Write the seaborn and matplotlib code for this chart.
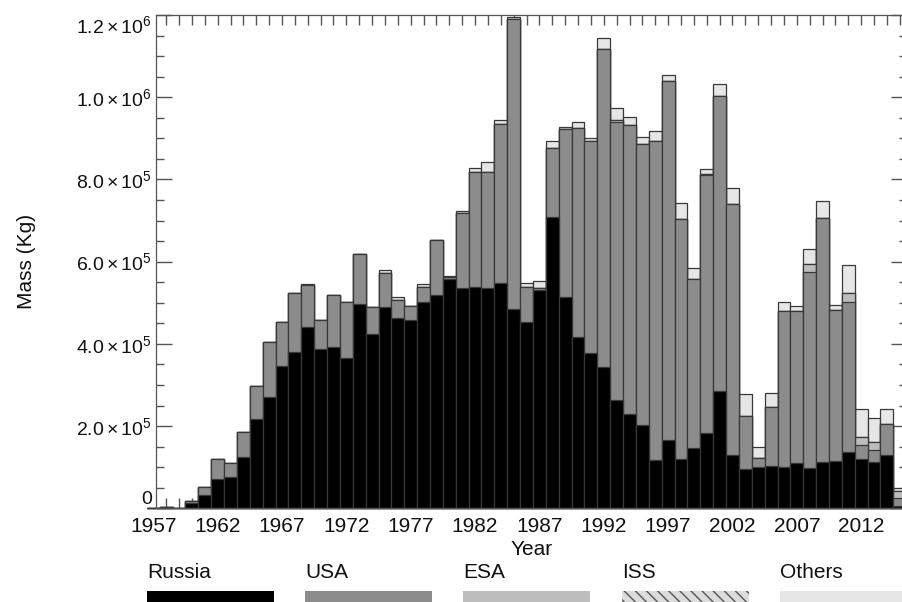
import matplotlib
matplotlib.use("Agg")
import matplotlib.pyplot as plt
from matplotlib.patches import Rectangle
from matplotlib.ticker import FixedLocator, MultipleLocator
import pandas as pd
import seaborn as sns

# ---------------------------------------------------------------- data (kg)
years = list(range(1957, 2016))

russia = [1500, 3500, 500, 14000, 32000, 71000, 75000, 124000, 217000, 271000,
          347000, 381000, 442000, 387000, 392000, 365000, 498000, 424000, 489000, 464000,
          457000, 502000, 519000, 558000, 536000, 538000, 536000, 547000, 484000, 454000,
          532000, 709000, 515000, 416000, 377000, 343000, 264000, 230000, 202000, 117000,
          165000, 119000, 146000, 184000, 286000, 130000, 95000, 100000, 104000, 100000,
          110000, 97000, 113000, 116000, 138000, 119000, 113000, 129000, 6000]

usa = [0, 500, 300, 4000, 19000, 50000, 36000, 62000, 81000, 133000,
       105000, 142000, 102000, 71000, 126000, 137000, 120000, 65000, 83000, 43000,
       34000, 36000, 134000, 5000, 182000, 281000, 282000, 388000, 707000, 84000,
       4000, 168000, 408000, 509000, 517000, 775000, 676000, 703000, 683000, 777000,
       875000, 585000, 412000, 626000, 716000, 611000, 130000, 22000, 142000, 381000,
       369000, 478000, 594000, 367000, 365000, 35000, 29000, 77000, 18000]

esa = [0, 0, 0, 0, 0, 0, 0, 0, 0, 0,
       0, 0, 0, 0, 0, 0, 0, 0, 0, 0,
       0, 0, 0, 0, 0, 0, 0, 0, 0, 0,
       0, 0, 0, 0, 0, 0, 5000, 0, 0, 0,
       0, 0, 0, 3000, 0, 0, 0, 0, 0, 0,
       0, 20000, 0, 0, 21000, 19000, 19000, 0, 18000]

iss = [0, 0, 0, 0, 0, 0, 0, 0, 0, 0,
       0, 0, 0, 0, 0, 0, 0, 0, 0, 0,
       0, 0, 0, 0, 0, 0, 0, 0, 0, 0,
       0, 0, 0, 0, 0, 0, 0, 0, 0, 0,
       0, 0, 0, 0, 0, 0, 0, 0, 0, 0,
       0, 0, 0, 0, 0, 0, 0, 0, 0]

others = [0, 0, 0, 0, 0, 0, 0, 0, 0, 0,
          0, 0, 2000, 0, 2000, 0, 0, 0, 8000, 6000,
          1000, 8000, 0, 3000, 5000, 8000, 25000, 9000, 5000, 11000,
          17000, 16000, 5000, 15000, 7000, 26000, 28000, 19000, 18000, 25000,
          13000, 39000, 26000, 12000, 29000, 37000, 53000, 27000, 35000, 21000,
          14000, 36000, 40000, 12000, 67000, 69000, 58000, 35000, 7000]

series_names = ["Russia", "USA", "ESA", "ISS", "Others"]
ytick_values = [0, 2e5, 4e5, 6e5, 8e5, 1.0e6, 1.2e6]
ytick_labels = ["0", r"$2.0\times10^{5}$", r"$4.0\times10^{5}$", r"$6.0\times10^{5}$",
                r"$8.0\times10^{5}$", r"$1.0\times10^{6}$", r"$1.2\times10^{6}$"]
xtick_years = [1957, 1962, 1967, 1972, 1977, 1982, 1987, 1992, 1997, 2002, 2007, 2012]

# ---------------------------------------------------------------- styling
sns.set_theme(style="white")
plt.rcParams["font.family"] = ["Liberation Sans", "DejaVu Sans"]
plt.rcParams["mathtext.fontset"] = "custom"
plt.rcParams["mathtext.rm"] = "Liberation Sans"
plt.rcParams["mathtext.it"] = "Liberation Sans:italic"
plt.rcParams["mathtext.bf"] = "Liberation Sans:bold"
plt.rcParams["hatch.linewidth"] = 1.0

colors = {"Russia": "#000000", "USA": "#8c8c8c", "ESA": "#bdbdbd",
          "ISS": "#dcdcdc", "Others": "#e6e6e6"}
hatches = {"ISS": "\\\\\\"}
EDGE = "#383838"
SPINE = "#555555"
TEXT = "#111111"

df = pd.DataFrame({"year": years, "Russia": russia, "USA": usa,
                   "ESA": esa, "ISS": iss, "Others": others})
cum = df[series_names].cumsum(axis=1)
cum["year"] = df["year"]

W, H = 902, 602
fig = plt.figure(figsize=(W / 100, H / 100), dpi=100)
# the plotting frame runs slightly past the right edge of the canvas
ax_left, ax_right, ax_top, ax_bottom = 156, 907, 15, 508.3
ax = fig.add_axes([ax_left / W, 1 - ax_bottom / H,
                   (ax_right - ax_left) / W, (ax_bottom - ax_top) / H])

# stacked bars: draw the running totals from the top segment down
for name in reversed(series_names):
    kw = {}
    if name in hatches:
        kw["hatch"] = hatches[name]
    sns.barplot(data=cum, x="year", y=name, native_scale=True, orient="x",
                width=1.0, color=colors[name], saturation=1, errorbar=None,
                edgecolor=EDGE, linewidth=0.9, clip_on=False, ax=ax, **kw)

# ---------------------------------------------------------------- axes
ax.set_ylim(0, 1.2e6)
ax.set_xlim(1957.21, 2015.56)

ax.yaxis.set_major_locator(FixedLocator(ytick_values))
ax.set_yticklabels(ytick_labels)
ax.yaxis.set_minor_locator(MultipleLocator(5e4))
ax.xaxis.set_major_locator(FixedLocator(xtick_years))
ax.set_xticklabels([str(y) for y in xtick_years])
ax.xaxis.set_minor_locator(MultipleLocator(1))

ax.tick_params(axis="y", which="major", direction="in", length=11.5, width=1.0,
               color=SPINE, left=True, right=True, labelsize=14, pad=3, labelcolor=TEXT)
ax.tick_params(axis="y", which="minor", direction="in", length=5.8, width=1.0,
               color=SPINE, left=True, right=True)
ax.tick_params(axis="x", which="both", direction="in", length=7, width=1.0,
               color=SPINE, bottom=True, top=True)
ax.tick_params(axis="x", which="major", labelsize=15, pad=6.5, labelcolor=TEXT)

labels = ax.get_yticklabels()
labels[0].set_verticalalignment("bottom")
labels[-1].set_verticalalignment("top")

# first year label sits just left of the frame
ax.annotate("1957", xy=(1957, 0), xycoords=("data", "axes fraction"),
            xytext=(0, -6.5), textcoords="offset points", ha="center", va="top",
            fontsize=15, color=TEXT, annotation_clip=False)

for side in ["left", "right", "top", "bottom"]:
    ax.spines[side].set_visible(True)
    ax.spines[side].set_color(SPINE)
    ax.spines[side].set_linewidth(0.9)

ax.set_xlabel("Year", fontsize=15, labelpad=3, color=TEXT)
ax.set_ylabel("Mass (Kg)", fontsize=15, color=TEXT)
ax.yaxis.set_label_coords((36 - ax_left) / (ax_right - ax_left), 0.5)

# ---------------------------------------------------------------- legend row
box_left = [147, 305, 463, 622, 780]
box_w = 127
box_top = 590.7
text_base = 578.3
for name, x0 in zip(series_names, box_left):
    rect = Rectangle((x0 / W, 1 - 606 / H), box_w / W, (606 - box_top) / H,
                     transform=fig.transFigure, facecolor=colors[name],
                     edgecolor="#555555" if name in hatches else colors[name],
                     linewidth=0, hatch=hatches.get(name))
    fig.add_artist(rect)
    fig.text(x0 / W, 1 - text_base / H, name, fontsize=15, ha="left",
             va="baseline", color=TEXT)

fig.savefig("out.png", dpi=100)
